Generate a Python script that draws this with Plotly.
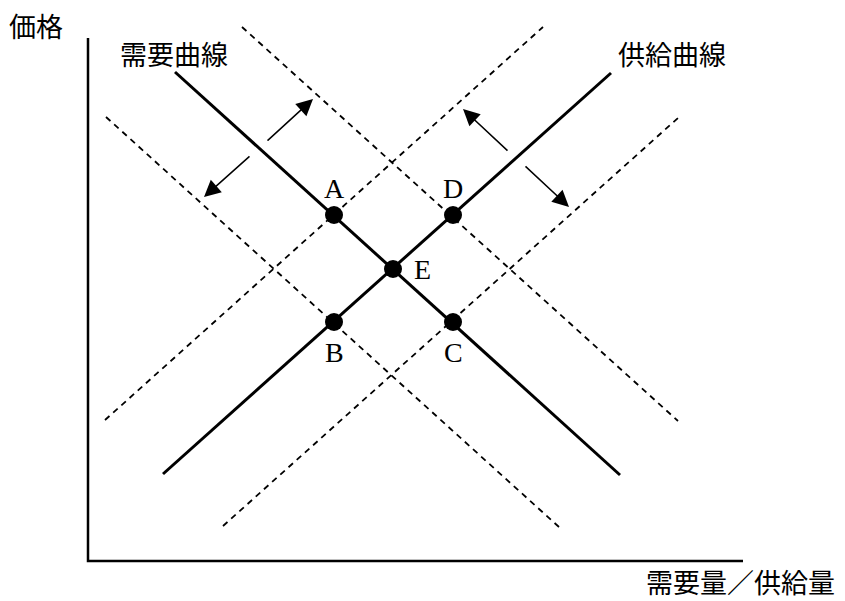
import plotly.graph_objects as go

# quantity / price coordinates (origin at the axis corner)
demand_x = [87, 532]
demand_y = [489, 86]
supply_x = [75, 523]
supply_y = [87, 488]

demand_right_x = [154, 590]
demand_right_y = [534, 140]
demand_left_x = [18, 471]
demand_left_y = [444, 34]
supply_left_x = [17, 455]
supply_left_y = [141, 534]
supply_right_x = [135, 590]
supply_right_y = [35, 443]

point_names = ["A", "D", "E", "B", "C"]
point_x = [246, 365, 305, 246, 365]
point_y = [346, 346, 292, 239, 239]

axis_x = [0, 0, 655]
axis_y = [523, 0, 0]

# shift arrows: (tail x, tail y, tip x, tip y)
arrows = [
    (178, 419, 225, 462),
    (163, 406, 116, 364),
    (421, 409, 375, 452),
    (436, 396, 481, 354),
]

JP = "Noto Sans CJK JP"
SERIF = "Liberation Serif"

fig = go.Figure()

fig.add_trace(go.Scatter(x=axis_x, y=axis_y, mode="lines",
                         line=dict(color="black", width=2.5)))

for xs, ys in [(demand_right_x, demand_right_y), (demand_left_x, demand_left_y),
               (supply_left_x, supply_left_y), (supply_right_x, supply_right_y)]:
    fig.add_trace(go.Scatter(x=xs, y=ys, mode="lines",
                             line=dict(color="black", width=1.8, dash="6px,5px")))

for xs, ys in [(demand_x, demand_y), (supply_x, supply_y)]:
    fig.add_trace(go.Scatter(x=xs, y=ys, mode="lines",
                             line=dict(color="black", width=3)))

fig.add_trace(go.Scatter(x=point_x, y=point_y, mode="markers",
                         marker=dict(color="black", size=18)))

# point labels
label_offsets = {"A": (0, 27), "D": (0, 27), "E": (29, 0), "B": (0, -30), "C": (0, -30)}
for name, px, py in zip(point_names, point_x, point_y):
    dx, dy = label_offsets[name]
    fig.add_annotation(x=px + dx, y=py + dy, text=name, showarrow=False,
                       font=dict(family=SERIF, size=28, color="black"))

for tx, ty, hx, hy in arrows:
    fig.add_annotation(x=hx, y=hy, ax=tx, ay=ty, xref="x", yref="y",
                       axref="x", ayref="y", text="", showarrow=True,
                       arrowhead=2, arrowsize=2.2, arrowwidth=1.5,
                       arrowcolor="black")

texts = [
    ("価格", -52, 536),
    ("需要曲線", 86, 508),
    ("供給曲線", 584, 508),
    ("需要量／供給量", 652, -20),
]
for t, x, y in texts:
    fig.add_annotation(x=x, y=y, text=t, showarrow=False, borderpad=0,
                       font=dict(family=JP, size=27, color="black"))

fig.update_layout(
    width=845, height=601,
    margin=dict(l=0, r=0, t=0, b=0),
    paper_bgcolor="white", plot_bgcolor="white",
    showlegend=False,
    xaxis=dict(range=[-88, 757], visible=False, fixedrange=True),
    yaxis=dict(range=[-40, 561], visible=False, fixedrange=True),
)

# drop the default 8px body margin so the figure fills the window
fig.write_html("out.html", config={"displayModeBar": False},
               post_script="document.body.style.margin='0';")
